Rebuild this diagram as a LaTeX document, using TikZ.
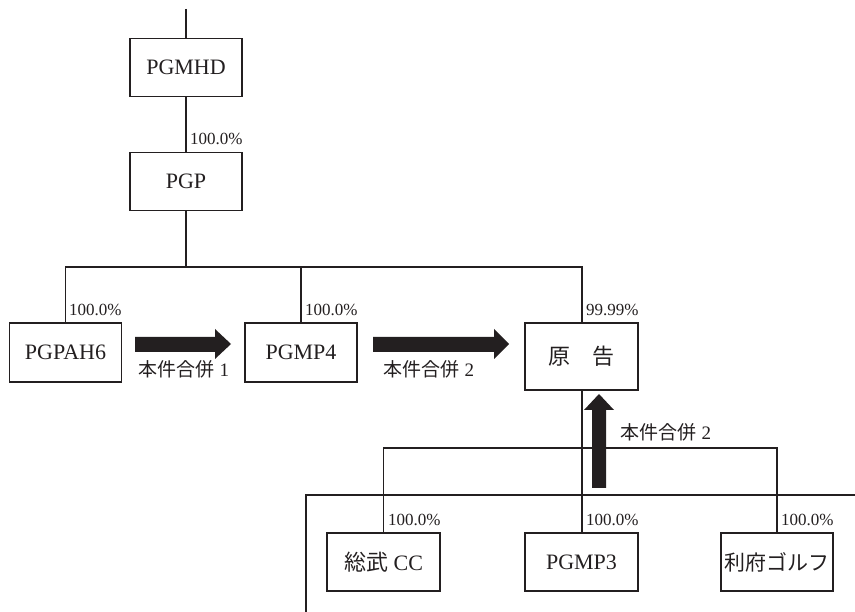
\documentclass[tikz,border=0pt]{standalone}
\usepackage{fontspec}
\setmainfont{Liberation Serif}
\newfontfamily\jp{Noto Sans CJK JP}
\definecolor{ink}{HTML}{231F20}
\begin{document}
\begin{tikzpicture}[x=1pt,y=-1pt,
  every node/.style={text=ink},
  orgbox/.style={draw=ink,line width=1.4pt,minimum width=112pt,minimum height=58pt,inner sep=0pt,
    font=\fontsize{22}{24}\selectfont},
  link/.style={draw=ink,line width=1.3pt},
  pct/.style={anchor=base west,inner sep=0pt,font=\fontsize{17}{19}\selectfont},
  mlabel/.style={inner sep=0pt,font=\fontsize{19}{21}\selectfont},
  bigarrow/.style={fill=ink,draw=none}]
\useasboundingbox (0,0) rectangle (855,612);

% boxes
\node[orgbox] (pgmhd) at (186,67.5) {PGMHD};
\node[orgbox] (pgp) at (186,181.5) {PGP};
\node[orgbox,minimum height=59pt] (pgpah6) at (65.5,352.5) {PGPAH6};
\node[orgbox,minimum height=59pt] (pgmp4) at (301,352.5) {PGMP4};
\node[orgbox,minimum width=113pt,minimum height=67pt] (gen) at (581.5,356.5) {{\jp 原　告}};
\node[orgbox,minimum width=113pt] (sobu) at (383.5,562) {{\jp 総武} CC};
\node[orgbox,minimum width=113pt] (pgmp3) at (581.5,562) {PGMP3};
\node[orgbox] (rifu) at (777,562) {{\jp\fontsize{21}{23}\selectfont 利府ゴルフ}};

% connectors
\coordinate (top) at (186,9);
\coordinate (bus1) at (186,267);
\coordinate (bus2) at (582,448);
\draw[link] (top) -- (pgmhd.north);
\draw[link] (pgmhd.south) -- (pgp.north);
\draw[link] (pgp.south) -- (bus1);
\draw[link] (pgpah6.north) |- (bus1) -| ([xshift=0.5pt]gen.north);
\draw[link] (pgmp4.north) -- (pgmp4.north |- bus1);
\draw[link] ([xshift=0.5pt]gen.south) -- ([xshift=0.5pt]pgmp3.north);
\draw[link] (sobu.north) |- (bus2) -| (rifu.north);

% thick bracket
\coordinate (brA) at (306,615);
\coordinate (brB) at (306,495);
\coordinate (brC) at (858,495);
\draw[draw=ink,line width=2.4pt] (brA) -- (brB) -- (brC);

% percentages
\node[pct] at ([xshift=4pt,yshift=7pt]pgp.north) {100.0\%};
\node[pct] at ([xshift=3.5pt,yshift=7pt]pgpah6.north) {100.0\%};
\node[pct] at ([xshift=4pt,yshift=7pt]pgmp4.north) {100.0\%};
\node[pct] at ([xshift=4.5pt,yshift=7pt]gen.north) {99.99\%};
\node[pct] at ([xshift=4.5pt,yshift=7pt]sobu.north) {100.0\%};
\node[pct] at ([xshift=4.5pt,yshift=7pt]pgmp3.north) {100.0\%};
\node[pct] at ([xshift=4pt,yshift=7pt]rifu.north) {100.0\%};

% merge arrows
\fill[bigarrow] (135,337) -- (215,337) -- (215,329) -- (231,344) -- (215,359) -- (215,352) -- (135,352) -- cycle;
\fill[bigarrow] (373,337) -- (494,337) -- (494,329) -- (509,344) -- (494,359) -- (494,352) -- (373,352) -- cycle;
\fill[bigarrow] (592,488) -- (592,410) -- (584,410) -- (599,394) -- (614,410) -- (606,410) -- (606,488) -- cycle;

\node[mlabel] (m1) at (184,369.5) {{\jp 本件合併} 1};
\node[mlabel] (m2) at (429,369.5) {{\jp 本件合併} 2};
\node[mlabel] (m3) at (666,432.5) {{\jp 本件合併} 2};
\end{tikzpicture}
\end{document}
